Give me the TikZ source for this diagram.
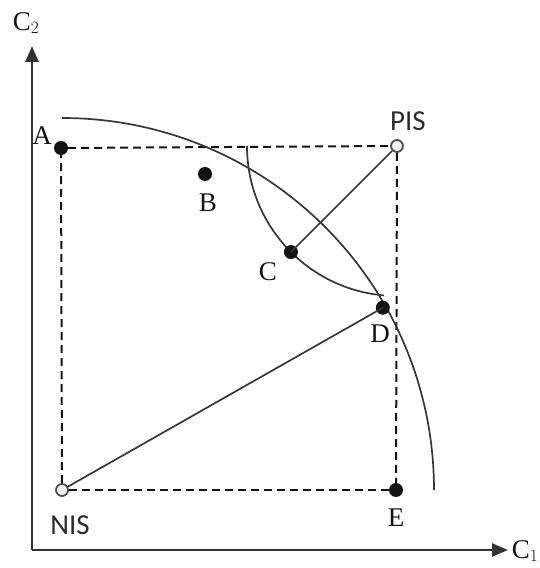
\documentclass[tikz,border=0pt]{standalone}
\usepackage{fontspec}
\setmainfont{Liberation Serif}
\newfontfamily\labelsans{Carlito}
\usetikzlibrary{positioning,calc,arrows.meta}
\definecolor{ink}     {HTML}{141414}
\definecolor{axisgray}{HTML}{333333}
\definecolor{softgray}{HTML}{D8D8D8}
\tikzset{
  % --- nodes
  dot/.style     = {circle, fill=ink, inner sep=0pt, minimum size=14pt},
  hollow/.style  = {circle, draw=ink!75, fill=softgray!40, line width=1.8pt,
                    inner sep=0pt, minimum size=12pt},
  lbl/.style     = {font=\fontsize{27}{31}\selectfont, text=ink, inner sep=1pt},
  slbl/.style    = {font=\labelsans\fontsize{29}{33}\selectfont, text=ink!90, inner sep=1pt},
  % --- edges
  axis/.style    = {-{Triangle[length=16pt,width=13pt]}, line width=2.6pt, draw=axisgray},
  dashedge/.style= {dashed, dash pattern=on 8pt off 5pt, line width=2pt, draw=ink},
  link/.style    = {line width=1.7pt, draw=ink!85},
  arcline/.style = {line width=1.7pt, draw=ink!85},
}
\begin{document}
\begin{tikzpicture}[x=1pt,y=1pt]
  \useasboundingbox (0,0) rectangle (539,568);
  % axes
  \coordinate (O) at (32,18);
  \coordinate (ytip) at (32,522);
  \coordinate (xtip) at (508,18);
  \draw[axis] (O) -- (ytip);
  \draw[axis] (O) -- (xtip);
  \node[lbl] (c2) at (26,545) {C$_2$};
  \node[lbl, anchor=east, inner sep=0pt] (c1) at (538.5,17) {C$_1$};
  % ideal solutions and dashed box
  \node[hollow] (PIS) at (397,422) {};
  \node[hollow] (NIS) at (62,78) {};
  \node[dot] (A) at (61,420) {};
  \node[dot] (E) at (396,78) {};
  \draw[dashedge] (A) -- (PIS);
  \draw[dashedge] (PIS) -- (E);
  \draw[dashedge] (E) -- (NIS);
  \draw[dashedge] (NIS) -- (A);
  % arcs round NIS and PIS
  \draw[arcline] ($(NIS.center)+(0,372)$) arc[start angle=90, end angle=0, radius=372];
  \draw[arcline] ($(PIS.center)+(-150,0)$) arc[start angle=180, end angle=265, radius=150];
  \node[dot] (B) at (205,394) {};
  \node[dot] (C) at ($(PIS.center)+(225:150)$) {};
  \node[dot] (D) at ($(NIS.center)+(29.6:369)$) {};
  \draw[link] (PIS) -- (C.center);
  \draw[link] (NIS) -- (D.center);
  % labels
  \node[lbl] (la) at (42,432) {A};
  \node[lbl] (lb) at (208,365) {B};
  \node[lbl] (lc) at (268,296) {C};
  \node[lbl] (ld) at (380,234) {D};
  \node[lbl] (le) at (396,50) {E};
  \node[slbl] (lpis) at (408,447) {PIS};
  \node[slbl] (lnis) at (70,43) {NIS};
\end{tikzpicture}
\end{document}
